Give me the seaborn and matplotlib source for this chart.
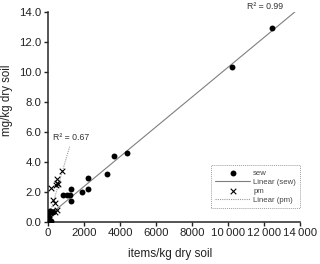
import numpy as np
import matplotlib
matplotlib.use("Agg")
import matplotlib.pyplot as plt
import seaborn as sns
from matplotlib.ticker import FuncFormatter

# sewage sludge plots (dots)
sew_x = [20, 100, 200, 270, 20, 60, 100, 30, 150, 10,
         850, 1050, 1220, 1260, 1260, 1870, 2240, 2240, 3260, 3650, 4400,
         10200, 12450]
sew_y = [0.7, 0.75, 0.7, 0.65, 0.3, 0.15, 0.05, 0.0, 0.1, 0.5,
         1.8, 1.8, 1.8, 2.2, 1.4, 2.0, 2.9, 2.2, 3.2, 4.4, 4.6,
         10.3, 12.9]

# plastic mulching plots (crosses)
pm_x = [760, 480, 520, 440, 570, 150, 300, 390, 200, 390, 480,
        20, 50, 80, 30, 100, 10, 60]
pm_y = [3.42, 2.85, 2.62, 2.47, 2.53, 2.25, 1.47, 1.25, 0.75, 0.69, 0.8,
        0.1, 0.3, 0.5, 0.05, 0.6, 0.0, 0.2]

sew_fit_range = [0, 13800]
pm_fit_range = [0, 1200]
x_ticks = [0, 2000, 4000, 6000, 8000, 10000, 12000, 14000]
y_ticks = [0, 2, 4, 6, 8, 10, 12, 14]

sns.set_style("ticks")
plt.rcParams["font.family"] = ["Liberation Sans", "DejaVu Sans"]

fig = plt.figure(figsize=(3.2, 2.64), dpi=100)
ax = fig.add_axes([0.15, 0.159, 0.7875, 0.796])

# trendlines from a least squares fit
k_sew, b_sew = np.polyfit(sew_x, sew_y, 1)
k_pm, b_pm = np.polyfit(pm_x, pm_y, 1)
xs_sew = np.array(sew_fit_range)
xs_pm = np.array(pm_fit_range)

sns.scatterplot(x=sew_x, y=sew_y, ax=ax, color="black", marker="o", s=18,
                edgecolor="black", linewidth=0, label="sew", zorder=3)
sns.lineplot(x=xs_sew, y=k_sew * xs_sew + b_sew, ax=ax, color="#7f7f7f",
             linewidth=0.8, label="Linear (sew)", zorder=2)
sns.scatterplot(x=pm_x, y=pm_y, ax=ax, color="black", marker="x", s=16,
                linewidth=0.8, label="pm", zorder=3)
sns.lineplot(x=xs_pm, y=k_pm * xs_pm + b_pm, ax=ax, color="#9a9a9a",
             linewidth=0.8, linestyle=(0, (1, 1)), label="Linear (pm)", zorder=2)

ax.set_xlim(0, 14000)
ax.set_ylim(0, 14)
ax.set_xticks(x_ticks)
ax.set_yticks(y_ticks)
ax.xaxis.set_major_formatter(FuncFormatter(
    lambda v, p: f"{int(v)}" if v < 10000 else f"{int(v) // 1000}\u2009{int(v) % 1000:03d}"))
ax.yaxis.set_major_formatter(FuncFormatter(lambda v, p: f"{v:.1f}"))
ax.tick_params(labelsize=8.2, length=3, width=1, colors="#222222", pad=1.5)
for s in ["left", "bottom"]:
    ax.spines[s].set_linewidth(1.1)
sns.despine(ax=ax)

ax.set_xlabel("items/kg dry soil", fontsize=8.5, color="#222222")
ax.set_ylabel("mg/kg dry soil", fontsize=8.3, color="#222222")
ax.xaxis.set_label_coords(0.484, -0.125)
ax.yaxis.set_label_coords(-0.138, 0.58)

ax.text(12050, 14.05, "R\u00b2 = 0.99", fontsize=6.3, color="#333333", ha="center", va="bottom")
ax.text(1300, 5.35, "R\u00b2 = 0.67", fontsize=6.3, color="#333333", ha="center", va="bottom")

leg = ax.legend(loc="lower right", bbox_to_anchor=(1.0, 0.067), fontsize=5.6,
                frameon=True, fancybox=False, handlelength=4.5, labelspacing=0.22,
                borderpad=0.5, handletextpad=0.4, borderaxespad=0)
leg.get_frame().set_edgecolor("#888888")
leg.get_frame().set_linestyle((0, (1, 1)))
leg.get_frame().set_linewidth(0.7)
for t in leg.get_texts():
    t.set_color("#444444")

fig.savefig("out.png", dpi=100)
